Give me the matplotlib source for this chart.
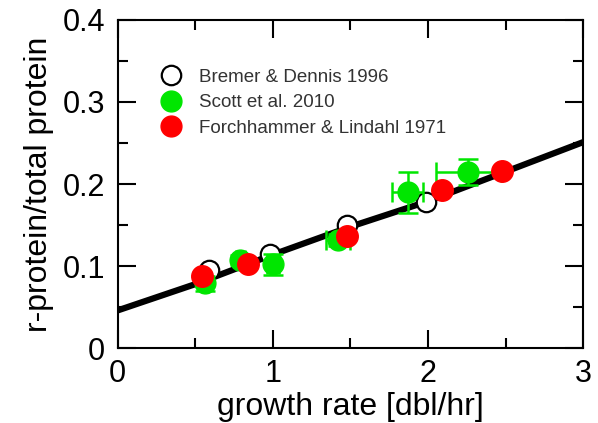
import numpy as np
import matplotlib.pyplot as plt
from matplotlib.lines import Line2D
from matplotlib.ticker import MultipleLocator

plt.rcParams['font.family'] = ['Liberation Sans', 'DejaVu Sans']

# fitted curve
fit_x = [0.0, 0.5, 1.0, 1.5, 2.0, 2.5, 3.0]
fit_y = [0.046, 0.078, 0.114, 0.148, 0.179, 0.215, 0.251]

# Bremer & Dennis 1996
bremer_x = [0.59, 0.98, 1.48, 1.99]
bremer_y = [0.095, 0.115, 0.150, 0.178]

# Scott et al. 2010
scott_x = [0.56, 0.79, 1.00, 1.42, 1.87, 2.26]
scott_y = [0.079, 0.107, 0.102, 0.132, 0.190, 0.215]
scott_xerr = [0.02, 0.03, 0.04, 0.075, 0.10, 0.21]
scott_yerr = [0.009, 0.006, 0.013, 0.007, 0.025, 0.016]

# Forchhammer & Lindahl 1971
forch_x = [0.54, 0.84, 1.48, 2.09, 2.48]
forch_y = [0.088, 0.103, 0.137, 0.193, 0.216]

labels = ['Bremer & Dennis 1996', 'Scott et al. 2010', 'Forchhammer & Lindahl 1971']

green = '#00e600'
red = '#ff0000'

fig = plt.figure(figsize=(5.98, 4.23), dpi=100)
ax = fig.add_axes([0.197, 0.177, 0.778, 0.776])

ax.plot(fit_x, fit_y, color='black', lw=4.5, zorder=1)
ax.plot(bremer_x, bremer_y, 'o', ms=14, mfc='white', mec='black', mew=1.6,
        zorder=2)
ax.errorbar(scott_x, scott_y, xerr=scott_xerr, yerr=scott_yerr, fmt='o',
            ms=15, color=green, ecolor=green, elinewidth=1.8, capsize=7,
            capthick=1.8, zorder=3)
ax.plot(forch_x, forch_y, 'o', ms=15.5, color=red, zorder=4)

ax.set_xlim(0, 3)
ax.set_ylim(0, 0.4)
ax.xaxis.set_major_locator(MultipleLocator(1))
ax.xaxis.set_minor_locator(MultipleLocator(0.5))
ax.yaxis.set_major_locator(MultipleLocator(0.1))
ax.yaxis.set_minor_locator(MultipleLocator(0.05))
ax.yaxis.set_major_formatter(plt.FuncFormatter(lambda v, p: '0' if v == 0 else f'{v:.1f}'))

ax.tick_params(which='both', direction='in', top=True, right=True, width=1.5)
ax.tick_params(which='major', length=13, labelsize=22)
ax.tick_params(axis='x', which='major', pad=8)
ax.tick_params(axis='y', which='major', pad=9)
ax.tick_params(which='minor', length=7)
for s in ax.spines.values():
    s.set_linewidth(1.5)

ax.set_xlabel('growth rate [dbl/hr]', fontsize=23, labelpad=2)
ax.set_ylabel('r-protein/total protein', fontsize=23, labelpad=6)

# legend handles: plain markers, no error bars
handles = [
    Line2D([], [], ls='none', marker='o', ms=14, mfc='white', mec='black', mew=1.6),
    Line2D([], [], ls='none', marker='o', ms=15, color=green),
    Line2D([], [], ls='none', marker='o', ms=15, color=red),
]
leg = ax.legend(handles, labels, loc='upper left', bbox_to_anchor=(0.078, 0.875),
                frameon=False, fontsize=13.5, handletextpad=1.0,
                labelspacing=0.45, handlelength=1.0, borderaxespad=0)
for t in leg.get_texts():
    t.set_color('#333333')

fig.savefig('out.png', dpi=100)
